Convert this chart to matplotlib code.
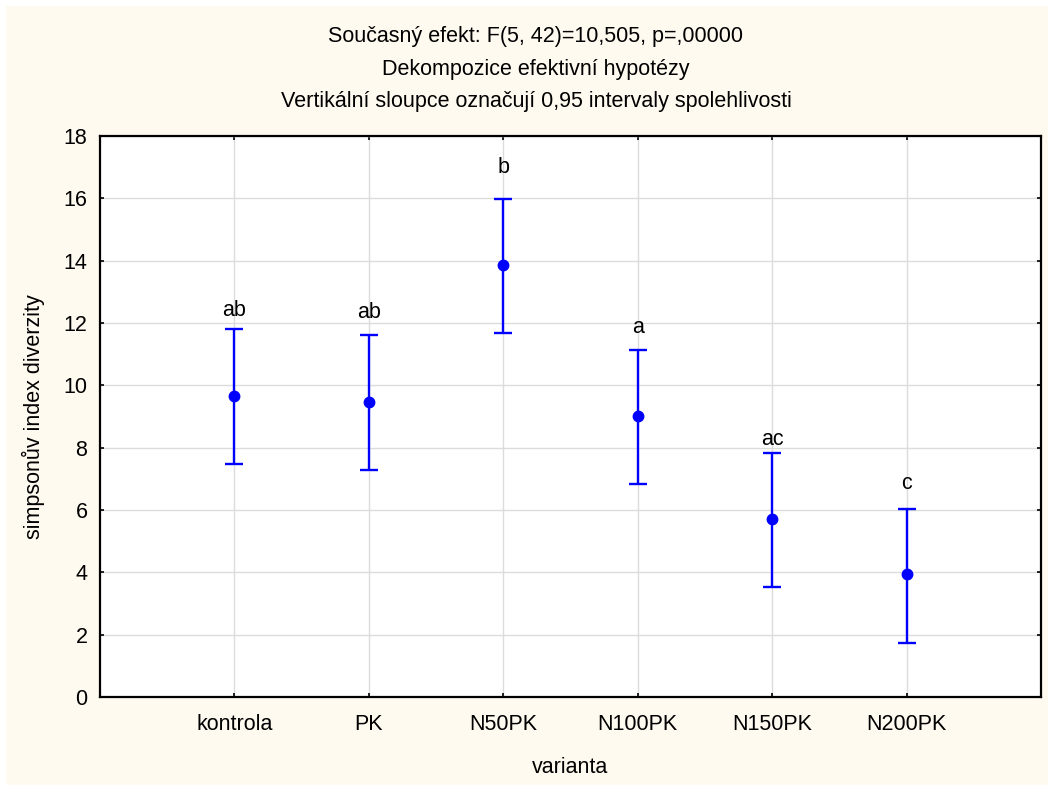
import matplotlib
matplotlib.use('Agg')
import matplotlib.pyplot as plt
from matplotlib.patches import Rectangle

plt.rcParams['font.family'] = ['Liberation Sans', 'DejaVu Sans']

## group data
varianta = ['kontrola', 'PK', 'N50PK', 'N100PK', 'N150PK', 'N200PK']
means = [9.66, 9.46, 13.86, 9.02, 5.71, 3.94]
ci_low = [7.49, 7.28, 11.67, 6.82, 3.52, 1.72]
ci_high = [11.81, 11.61, 15.98, 11.13, 7.84, 6.03]
letters = ['ab', 'ab', 'b', 'a', 'ac', 'c']
letter_y = [12.22, 12.16, 16.81, 11.68, 8.08, 6.67]  # baseline of each letter label
y_ticks = [0, 2, 4, 6, 8, 10, 12, 14, 16, 18]

FS = 15.5
W, H = 1048, 787
fig = plt.figure(figsize=(W / 100, H / 100), dpi=100, facecolor='white')
fig.patches.append(Rectangle((6 / W, 2 / H), 1 - 6 / W, 1 - 8 / H, transform=fig.transFigure,
                             facecolor='#fffaf0', edgecolor='none', zorder=-10))

ax = fig.add_axes([100 / W, (H - 697) / H, (1041 - 100) / W, (697 - 136) / H])
ax.set_zorder(5)
ax.set_facecolor('white')

x = list(range(1, len(varianta) + 1))
err_low = [m - l for m, l in zip(means, ci_low)]
err_high = [h - m for m, h in zip(means, ci_high)]
ax.errorbar(x, means, yerr=[err_low, err_high], fmt='o', color='#0000ff', ecolor='#0000ff',
            markersize=7.5, elinewidth=1.7, capsize=6.5, capthick=1.7, zorder=3)

for xi, lab, ly in zip(x, letters, letter_y):
    ax.text(xi, ly, lab, ha='center', va='baseline', fontsize=FS, color='black')

ax.set_xlim(0, 7)
ax.set_ylim(0, 18)
ax.set_xticks(x)
ax.set_xticklabels(varianta)
ax.set_yticks(y_ticks)
ax.grid(True, color='#dcdcdc', linewidth=1.0, zorder=0)
ax.set_axisbelow(True)
ax.tick_params(direction='in', length=3, width=1.2, top=True, right=True,
               labelsize=FS, pad=9, colors='black')
ax.tick_params(axis='x', pad=12)
for s in ax.spines.values():
    s.set_linewidth(1.6)
    s.set_color('black')

ax.set_xlabel('varianta', fontsize=FS, labelpad=16)
ax.set_ylabel('simpsonův index diverzity', fontsize=FS, labelpad=13)

title_lines = ['Současný efekt: F(5, 42)=10,505, p=,00000',
               'Dekompozice efektivní hypotézy',
               'Vertikální sloupce označují 0,95 intervaly spolehlivosti']
for i, t in enumerate(title_lines):
    fig.text(536 / W, 1 - (42 + 32.5 * i) / H, t, ha='center', va='baseline', fontsize=FS)

plt.savefig('out.png', dpi=100, facecolor=fig.get_facecolor())
